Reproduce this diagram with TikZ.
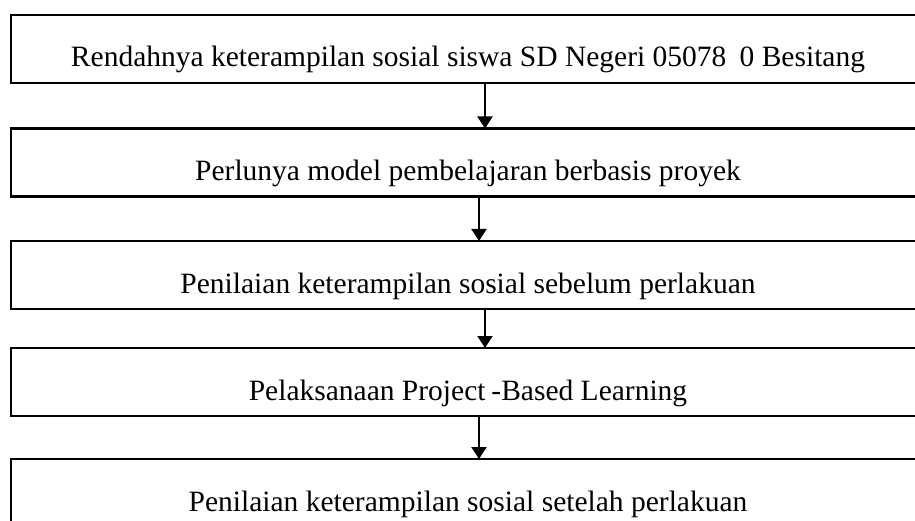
\documentclass[tikz,border=0pt]{standalone}
\usepackage{fontspec}
\setmainfont{Liberation Serif}
\usetikzlibrary{arrows.meta}
\begin{document}
\begin{tikzpicture}[x=1pt,y=-1pt,
  stepbox/.style={draw, line width=2.7pt, anchor=north west, inner sep=0pt, outer sep=0pt,
    minimum width=914pt, text height=52pt, text depth=16pt,
    font=\fontsize{29.5}{35}\selectfont},
  arr/.style={line width=2pt, -{Triangle[length=12pt,width=15pt]}}]
\useasboundingbox (0,0) rectangle (915,521);
\clip (0,0) rectangle (915,521);
\fill[white] (0,0) rectangle (915,521);
\node[stepbox] (b1) at (11,15) {Rendahnya keterampilan sosial siswa SD Negeri 05078\hspace{0.45em}0 Besitang};
\node[stepbox] (b2) at (11,128.5) {Perlunya model pembelajaran berbasis proyek};
\node[stepbox] (b3) at (11,241) {Penilaian keterampilan sosial sebelum perlakuan};
\node[stepbox] (b4) at (11,348) {Pelaksanaan Project\hspace{0.2em}-Based Learning};
\node[stepbox] (b5) at (11,459) {Penilaian keterampilan sosial setelah perlakuan};
\draw[arr] ([xshift=17pt]b1.south) -- ([xshift=17pt]b2.north);
\draw[arr] ([xshift=11pt]b2.south) -- ([xshift=11pt]b3.north);
\draw[arr] ([xshift=17pt]b3.south) -- ([xshift=17pt]b4.north);
\draw[arr] ([xshift=11pt]b4.south) -- ([xshift=11pt]b5.north);
\end{tikzpicture}
\end{document}
